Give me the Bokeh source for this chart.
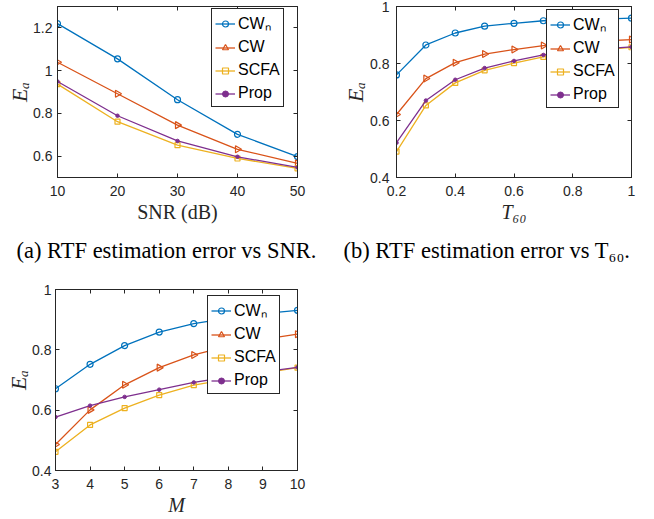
from bokeh.plotting import figure
from bokeh.models import (Range1d, FixedTicker, LinearAxis, NumeralTickFormatter,
                          PrintfTickFormatter, Title, Legend, LegendItem)
from bokeh.layouts import column, row
from bokeh.embed import file_html
from bokeh.resources import INLINE
import math

# ---------------- data ----------------
series_names = ["CWₙ", "CW", "SCFA", "Prop"]

snr = [10, 20, 30, 40, 50]
a_cwn = [1.220, 1.055, 0.864, 0.702, 0.598]
a_cw = [1.039, 0.892, 0.745, 0.632, 0.566]
a_scfa = [0.937, 0.761, 0.651, 0.589, 0.543]
a_prop = [0.949, 0.789, 0.671, 0.597, 0.547]

t60 = [0.2, 0.3, 0.4, 0.5, 0.6, 0.7, 0.8, 0.9, 1.0]
b_cwn = [0.760, 0.865, 0.907, 0.931, 0.941, 0.950, 0.953, 0.956, 0.959]
b_cw = [0.621, 0.747, 0.803, 0.833, 0.849, 0.863, 0.871, 0.879, 0.884]
b_scfa = [0.491, 0.653, 0.732, 0.776, 0.801, 0.823, 0.836, 0.848, 0.857]
b_prop = [0.522, 0.670, 0.743, 0.784, 0.809, 0.830, 0.842, 0.851, 0.858]

mics = [3, 4, 5, 6, 7, 8, 9, 10]
c_cwn = [0.671, 0.752, 0.814, 0.859, 0.887, 0.905, 0.920, 0.931]
c_cw = [0.486, 0.601, 0.684, 0.741, 0.783, 0.812, 0.835, 0.852]
c_scfa = [0.462, 0.551, 0.607, 0.650, 0.683, 0.703, 0.723, 0.741]
c_prop = [0.577, 0.615, 0.644, 0.668, 0.692, 0.710, 0.727, 0.742]

a_xticks = [10, 20, 30, 40, 50]
a_yticks = [0.6, 0.8, 1.0, 1.2]
b_xticks = [0.2, 0.4, 0.6, 0.8, 1.0]
b_yticks = [0.4, 0.6, 0.8, 1.0]
c_xticks = [3, 4, 5, 6, 7, 8, 9, 10]
c_yticks = [0.4, 0.6, 0.8, 1.0]

# ---------------- style ----------------
COLORS = ["#0072BD", "#D95319", "#EDB120", "#7E2F8E"]
AX = "#262626"
SANS = "Liberation Sans"
SERIF = "Liberation Serif"


def style_axis(ax, ticks, fmt=True):
    ax.ticker = FixedTicker(ticks=ticks)
    ax.major_tick_in = 4
    ax.major_tick_out = 0
    ax.minor_tick_in = 0
    ax.minor_tick_out = 0
    ax.axis_line_color = AX
    ax.major_tick_line_color = AX
    ax.major_label_text_font = SANS
    ax.major_label_text_font_size = "14px"
    ax.major_label_text_color = AX
    if fmt:
        ax.formatter = NumeralTickFormatter(format="0.[0]")


def panel(xs, ys_list, xr, yr, xt, yt, w, h, bl, br, bt, bb,
          xlabel, xlabel_style, leg_xy, ylab_standoff, ylabel_standoff,
          caption=None, cap_offset=0):
    p = figure(width=w, height=h, x_range=Range1d(*xr), y_range=Range1d(*yr),
               output_backend="svg", toolbar_location=None, title=None,
               min_border_left=bl, min_border_right=br,
               min_border_top=bt, min_border_bottom=bb)
    p.xgrid.visible = False
    p.ygrid.visible = False
    p.outline_line_color = AX
    p.outline_line_alpha = 1
    p.background_fill_color = "white"
    p.border_fill_color = "white"

    xa = p.xaxis[0]
    ya = p.yaxis[0]
    style_axis(xa, xt)
    style_axis(ya, yt)
    xa.major_label_standoff = 8
    ya.major_label_standoff = ylab_standoff
    xa.axis_label = xlabel
    xa.axis_label_text_font = SERIF
    xa.axis_label_text_font_size = "20px"
    xa.axis_label_text_font_style = xlabel_style
    xa.axis_label_text_color = AX
    xa.axis_label_standoff = 2
    ya.axis_label = "Eₐ"
    ya.axis_label_text_font = SERIF
    ya.axis_label_text_font_size = "22px"
    ya.axis_label_text_font_style = "italic"
    ya.axis_label_text_color = AX
    ya.axis_label_standoff = ylabel_standoff

    for side, ticks in (("above", xt), ("right", yt)):
        ax = LinearAxis()
        style_axis(ax, ticks, fmt=False)
        ax.formatter = PrintfTickFormatter(format="")
        ax.major_label_text_font_size = "0px"
        ax.major_label_standoff = 0
        p.add_layout(ax, side)

    items = []
    for i, ys in enumerate(ys_list):
        c = COLORS[i]
        rl = p.line(xs, ys, line_color=c, line_width=1.3)
        if i == 0:
            rm = p.scatter(xs, ys, marker="circle", size=6, line_color=c,
                           fill_color=None, line_width=1.2)
        elif i == 1:
            rm = p.scatter(xs, ys, marker="triangle", size=7, angle=-math.pi / 2,
                           line_color=c, fill_color=None, line_width=1.2)
        elif i == 2:
            rm = p.scatter(xs, ys, marker="square", size=5, line_color=c,
                           fill_color=None, line_width=1.2)
        else:
            rm = p.scatter(xs, ys, marker="circle", size=3.5, line_color=c,
                           fill_color=c, line_width=1)
        items.append(LegendItem(label=series_names[i], renderers=[rl, rm]))

    leg = Legend(items=items, location=leg_xy)
    leg.border_line_color = AX
    leg.border_line_width = 1
    leg.border_line_alpha = 1
    leg.background_fill_color = "white"
    leg.background_fill_alpha = 1
    leg.label_text_font = SANS
    leg.label_text_font_size = "16px"
    leg.label_text_color = "black"
    leg.glyph_width = 20
    leg.glyph_height = 15
    leg.label_height = 20
    leg.label_standoff = 3
    leg.spacing = 3
    leg.padding = 3
    leg.margin = 0
    p.add_layout(leg)

    if caption is not None:
        t = Title(text=caption, align="left", offset=cap_offset,
                  text_font=SERIF, text_font_size="22.5px",
                  text_font_style="normal", text_color="black", standoff=20)
        p.add_layout(t, "below")
    return p


H1 = 272
pa = panel(snr, [a_cwn, a_cw, a_scfa, a_prop], (10, 50), (0.5, 1.3),
           a_xticks, a_yticks, 330, H1, 57, 33, 6, H1 - 177,
           "SNR (dB)", "normal", (154, 70), 5, -2,
           caption="(a) RTF estimation error vs SNR.", cap_offset=-41)
pb = panel(t60, [b_cwn, b_cw, b_scfa, b_prop], (0.2, 1.0), (0.4, 1.0),
           b_xticks, b_yticks, 324, H1, 66, 23, 6, H1 - 177,
           "T₆₀", "italic", (150, 69), 7, -1,
           caption="(b) RTF estimation error vs T₆₀.", cap_offset=-53)
pc = panel(mics, [c_cwn, c_cw, c_scfa, c_prop], (3, 10), (0.4, 1.0),
           c_xticks, c_yticks, 330, 246, 55, 33, 17, 47,
           "M", "italic", (152, 76), 4, -2)

root = column(row(pa, pb), pc)

open("out.html", "w").write(file_html(root, INLINE))
